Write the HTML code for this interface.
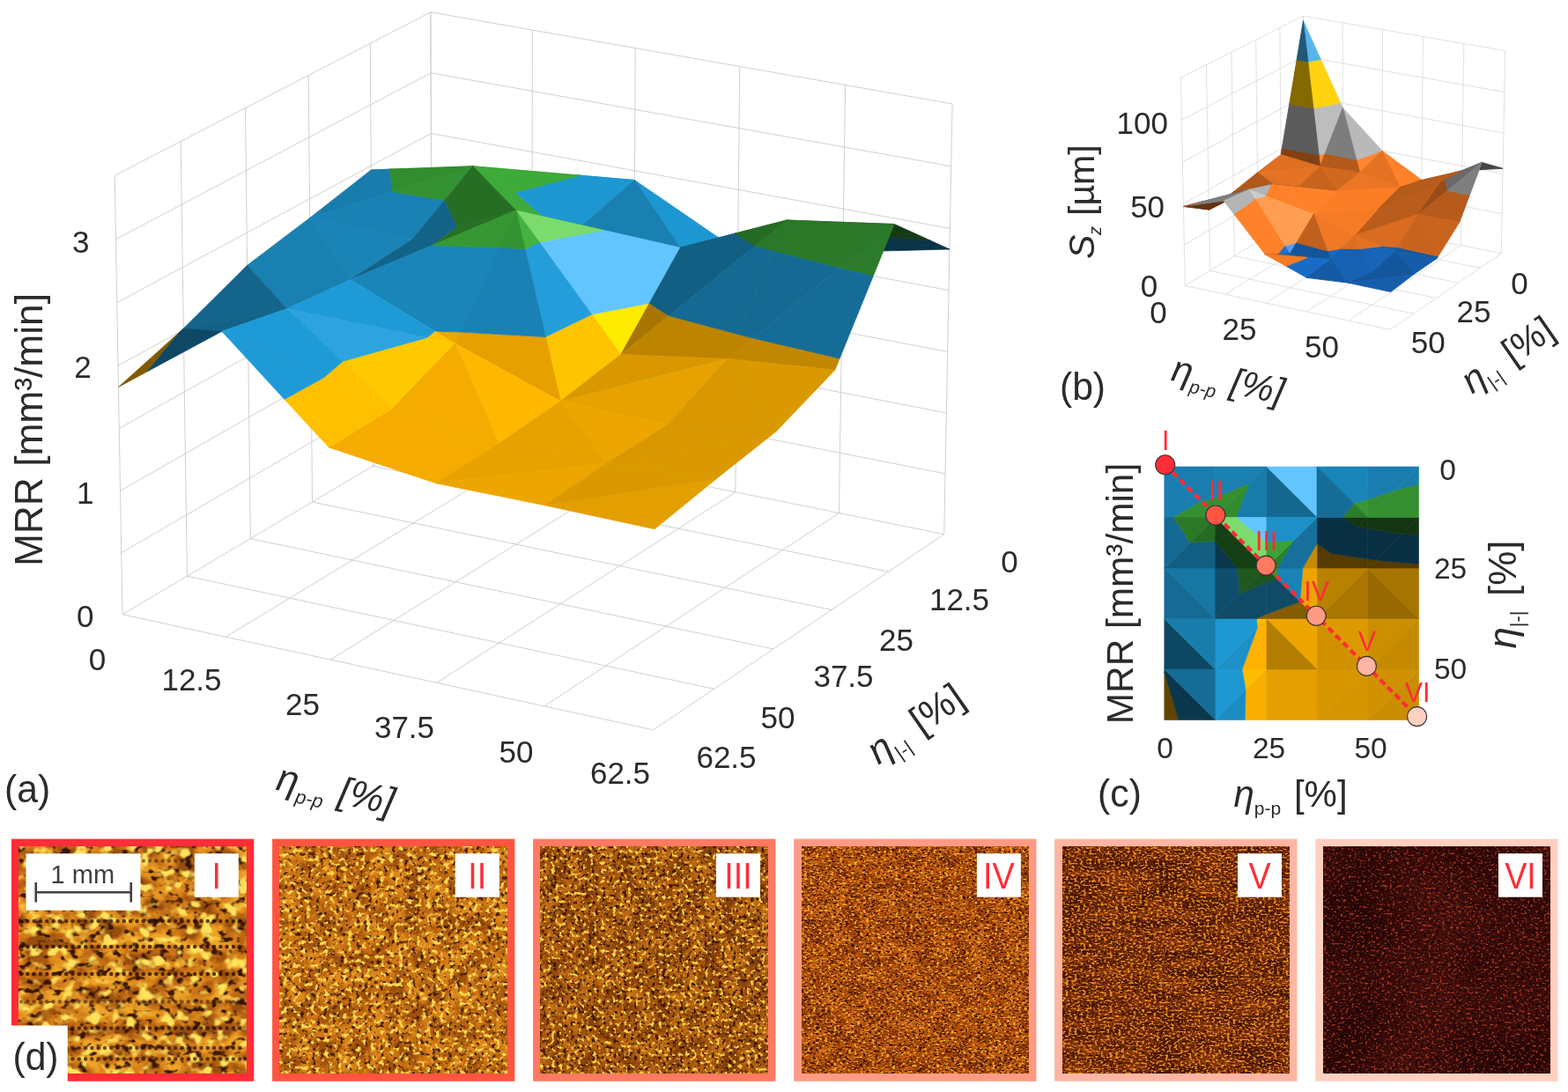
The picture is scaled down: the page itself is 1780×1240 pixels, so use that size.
<!DOCTYPE html>
<html><head><meta charset="utf-8"><title>Figure</title>
<style>html,body{margin:0;padding:0;background:#fff}svg{display:block}text{font-family:"Liberation Sans",sans-serif}</style></head>
<body>
<svg width="1780" height="1240" viewBox="0 0 1780 1240">
<line x1="490.6" y1="489.3" x2="139" y2="697.7" stroke="#d0d0d0" stroke-width="1"/>
<line x1="603.9" y1="512.2" x2="256.4" y2="723.2" stroke="#d0d0d0" stroke-width="1"/>
<line x1="718.7" y1="535.4" x2="375.3" y2="749.1" stroke="#d0d0d0" stroke-width="1"/>
<line x1="834.9" y1="558.8" x2="495.7" y2="775.3" stroke="#d0d0d0" stroke-width="1"/>
<line x1="952.5" y1="582.6" x2="617.9" y2="801.8" stroke="#d0d0d0" stroke-width="1"/>
<line x1="1071.7" y1="606.6" x2="741.6" y2="828.8" stroke="#d0d0d0" stroke-width="1"/>
<line x1="490.6" y1="489.3" x2="1071.7" y2="606.6" stroke="#d0d0d0" stroke-width="1"/>
<line x1="423.3" y1="529.2" x2="1008.6" y2="649.1" stroke="#d0d0d0" stroke-width="1"/>
<line x1="354.5" y1="570" x2="944.1" y2="692.5" stroke="#d0d0d0" stroke-width="1"/>
<line x1="284.3" y1="611.6" x2="878.1" y2="736.9" stroke="#d0d0d0" stroke-width="1"/>
<line x1="212.4" y1="654.2" x2="810.6" y2="782.3" stroke="#d0d0d0" stroke-width="1"/>
<line x1="139" y1="697.7" x2="741.6" y2="828.8" stroke="#d0d0d0" stroke-width="1"/>
<line x1="490.6" y1="489.3" x2="488.9" y2="13.8" stroke="#d0d0d0" stroke-width="1"/>
<line x1="423.3" y1="529.2" x2="420.3" y2="49.3" stroke="#d0d0d0" stroke-width="1"/>
<line x1="354.5" y1="570" x2="350.2" y2="85.6" stroke="#d0d0d0" stroke-width="1"/>
<line x1="284.3" y1="611.6" x2="278.5" y2="122.6" stroke="#d0d0d0" stroke-width="1"/>
<line x1="212.4" y1="654.2" x2="205.2" y2="160.5" stroke="#d0d0d0" stroke-width="1"/>
<line x1="139" y1="697.7" x2="130.2" y2="199.3" stroke="#d0d0d0" stroke-width="1"/>
<line x1="490.4" y1="422.5" x2="137.8" y2="627.7" stroke="#d0d0d0" stroke-width="1"/>
<line x1="490.1" y1="355.3" x2="136.6" y2="557.3" stroke="#d0d0d0" stroke-width="1"/>
<line x1="489.9" y1="287.7" x2="135.3" y2="486.5" stroke="#d0d0d0" stroke-width="1"/>
<line x1="489.7" y1="219.8" x2="134" y2="415.3" stroke="#d0d0d0" stroke-width="1"/>
<line x1="489.4" y1="151.5" x2="132.8" y2="343.7" stroke="#d0d0d0" stroke-width="1"/>
<line x1="489.2" y1="82.8" x2="131.5" y2="271.7" stroke="#d0d0d0" stroke-width="1"/>
<line x1="488.9" y1="13.8" x2="130.2" y2="199.3" stroke="#d0d0d0" stroke-width="1"/>
<line x1="490.6" y1="489.3" x2="488.9" y2="13.8" stroke="#d0d0d0" stroke-width="1"/>
<line x1="603.9" y1="512.2" x2="604.3" y2="34.1" stroke="#d0d0d0" stroke-width="1"/>
<line x1="718.7" y1="535.4" x2="721.2" y2="54.6" stroke="#d0d0d0" stroke-width="1"/>
<line x1="834.9" y1="558.8" x2="839.7" y2="75.4" stroke="#d0d0d0" stroke-width="1"/>
<line x1="952.5" y1="582.6" x2="959.6" y2="96.5" stroke="#d0d0d0" stroke-width="1"/>
<line x1="1071.7" y1="606.6" x2="1081.1" y2="117.9" stroke="#d0d0d0" stroke-width="1"/>
<line x1="490.4" y1="422.5" x2="1073" y2="537.9" stroke="#d0d0d0" stroke-width="1"/>
<line x1="490.1" y1="355.3" x2="1074.3" y2="468.9" stroke="#d0d0d0" stroke-width="1"/>
<line x1="489.9" y1="287.7" x2="1075.7" y2="399.4" stroke="#d0d0d0" stroke-width="1"/>
<line x1="489.7" y1="219.8" x2="1077" y2="329.6" stroke="#d0d0d0" stroke-width="1"/>
<line x1="489.4" y1="151.5" x2="1078.4" y2="259.4" stroke="#d0d0d0" stroke-width="1"/>
<line x1="489.2" y1="82.8" x2="1079.8" y2="188.8" stroke="#d0d0d0" stroke-width="1"/>
<line x1="488.9" y1="13.8" x2="1081.1" y2="117.9" stroke="#d0d0d0" stroke-width="1"/>
<polygon points="489.6,199.3 604.2,206.9 562.4,195.6 522.3,192" fill="#187aa9" stroke="#187aa9" stroke-width="0.7" stroke-linejoin="round"/>
<polygon points="562.4,195.6 536.8,188.7 522.3,192" fill="#318a2f" stroke="#318a2f" stroke-width="0.7" stroke-linejoin="round"/>
<polygon points="489.6,199.3 522.3,192 442.4,192.2 421.2,193" fill="#187aa9" stroke="#187aa9" stroke-width="0.7" stroke-linejoin="round"/>
<polygon points="522.3,192 536.8,188.7 442.4,192.2" fill="#318a2f" stroke="#318a2f" stroke-width="0.7" stroke-linejoin="round"/>
<polygon points="604.2,206.9 720.4,204.5 658.7,199.2 562.4,195.6" fill="#1981b3" stroke="#1981b3" stroke-width="0.7" stroke-linejoin="round"/>
<polygon points="658.7,199.2 536.8,188.7 562.4,195.6" fill="#349232" stroke="#349232" stroke-width="0.7" stroke-linejoin="round"/>
<polygon points="421.2,193 442.4,192.2 445.6,217.7 351.6,247.5" fill="#187dad" stroke="#187dad" stroke-width="0.7" stroke-linejoin="round"/>
<polygon points="442.4,192.2 536.8,188.7 445.6,217.7" fill="#328d30" stroke="#328d30" stroke-width="0.7" stroke-linejoin="round"/>
<polygon points="720.4,204.5 653.8,262.3 584.3,218.6 658.7,199.2" fill="#1d97d1" stroke="#1d97d1" stroke-width="0.7" stroke-linejoin="round"/>
<polygon points="584.3,218.6 536.8,188.7 658.7,199.2" fill="#3daa3a" stroke="#3daa3a" stroke-width="0.7" stroke-linejoin="round"/>
<polygon points="720.4,204.5 837.6,284.8 772.3,281.2" fill="#1d97d1" stroke="#1d97d1" stroke-width="0.7" stroke-linejoin="round"/>
<polygon points="720.4,204.5 772.3,281.2 653.8,262.3" fill="#1980b1" stroke="#1980b1" stroke-width="0.7" stroke-linejoin="round"/>
<polygon points="504.8,227.5 468,272 351.6,247.5 445.6,217.7" fill="#1981b3" stroke="#1981b3" stroke-width="0.7" stroke-linejoin="round"/>
<polygon points="536.8,188.7 504.8,227.5 445.6,217.7" fill="#349232" stroke="#349232" stroke-width="0.7" stroke-linejoin="round"/>
<polygon points="584.3,218.6 653.8,262.3 620.2,250.6" fill="#1d97d1" stroke="#1d97d1" stroke-width="0.7" stroke-linejoin="round"/>
<polygon points="536.8,188.7 584.3,218.6 620.2,250.6 585.8,238.8" fill="#3daa3a" stroke="#3daa3a" stroke-width="0.7" stroke-linejoin="round"/>
<polygon points="837.6,284.8 956.8,286.2 915.2,262.6 877.9,259.5" fill="#125f83" stroke="#125f83" stroke-width="0.7" stroke-linejoin="round"/>
<polygon points="915.2,262.6 893,250 877.9,259.5" fill="#266b24" stroke="#266b24" stroke-width="0.7" stroke-linejoin="round"/>
<polygon points="519.3,257.5 468,272 504.8,227.5" fill="#136287" stroke="#136287" stroke-width="0.7" stroke-linejoin="round"/>
<polygon points="536.8,188.7 585.8,238.8 519.3,257.5 504.8,227.5" fill="#276e25" stroke="#276e25" stroke-width="0.7" stroke-linejoin="round"/>
<polygon points="837.6,284.8 877.9,259.5 834.5,265.1 772.3,281.2" fill="#125f83" stroke="#125f83" stroke-width="0.7" stroke-linejoin="round"/>
<polygon points="877.9,259.5 893,250 834.5,265.1" fill="#266b24" stroke="#266b24" stroke-width="0.7" stroke-linejoin="round"/>
<polygon points="351.6,247.5 468,272 397.7,317.5" fill="#1a84b7" stroke="#1a84b7" stroke-width="0.7" stroke-linejoin="round"/>
<polygon points="653.8,262.3 772.3,281.2 685,261.3 620.2,250.6" fill="#187aa9" stroke="#187aa9" stroke-width="0.7" stroke-linejoin="round"/>
<polygon points="685,261.3 585.8,238.8 620.2,250.6" fill="#318a2f" stroke="#318a2f" stroke-width="0.7" stroke-linejoin="round"/>
<polygon points="351.6,247.5 397.7,317.5 280.6,301.3" fill="#1980b1" stroke="#1980b1" stroke-width="0.7" stroke-linejoin="round"/>
<polygon points="956.8,286.2 1077.9,283 990,267.3 915.2,262.6" fill="#0a3448" stroke="#0a3448" stroke-width="0.7" stroke-linejoin="round"/>
<polygon points="990,267.3 893,250 915.2,262.6" fill="#153a14" stroke="#153a14" stroke-width="0.7" stroke-linejoin="round"/>
<polygon points="468,272 519.3,257.5 490.9,278.5 397.7,317.5" fill="#136389" stroke="#136389" stroke-width="0.7" stroke-linejoin="round"/>
<polygon points="519.3,257.5 585.8,238.8 490.9,278.5" fill="#287026" stroke="#287026" stroke-width="0.7" stroke-linejoin="round"/>
<polygon points="737.2,344.3 704.8,402.5 671.8,357" fill="#ffeb00" stroke="#ffeb00" stroke-width="0.7" stroke-linejoin="round"/>
<polygon points="772.3,281.2 737.2,344.3 671.8,357 612.3,275.1 685,261.3" fill="#63c5ff" stroke="#63c5ff" stroke-width="0.7" stroke-linejoin="round"/>
<polygon points="612.3,275.1 585.8,238.8 685,261.3" fill="#7bdb6d" stroke="#7bdb6d" stroke-width="0.7" stroke-linejoin="round"/>
<polygon points="759.1,358.5 704.8,402.5 737.2,344.3" fill="#a87500" stroke="#a87500" stroke-width="0.7" stroke-linejoin="round"/>
<polygon points="772.3,281.2 834.5,265.1 857.1,279.1 759.1,358.5 737.2,344.3" fill="#125f83" stroke="#125f83" stroke-width="0.7" stroke-linejoin="round"/>
<polygon points="834.5,265.1 893,250 857.1,279.1" fill="#266b24" stroke="#266b24" stroke-width="0.7" stroke-linejoin="round"/>
<polygon points="1077.9,283 1056.1,273.1 990,267.3" fill="#0a3448" stroke="#0a3448" stroke-width="0.7" stroke-linejoin="round"/>
<polygon points="1056.1,273.1 1015.2,254.5 893,250 990,267.3" fill="#153a14" stroke="#153a14" stroke-width="0.7" stroke-linejoin="round"/>
<polygon points="522.4,377.1 516.5,390 493.7,376.1" fill="#eda600" stroke="#eda600" stroke-width="0.7" stroke-linejoin="round"/>
<polygon points="566.4,281.1 522.4,377.1 493.7,376.1 397.7,317.5 490.9,278.5" fill="#1a85b9" stroke="#1a85b9" stroke-width="0.7" stroke-linejoin="round"/>
<polygon points="585.8,238.8 566.4,281.1 490.9,278.5" fill="#369733" stroke="#369733" stroke-width="0.7" stroke-linejoin="round"/>
<polygon points="837.6,379.5 825.6,407.5 704.8,402.5 759.1,358.5" fill="#bd8400" stroke="#bd8400" stroke-width="0.7" stroke-linejoin="round"/>
<polygon points="878.2,284.6 837.6,379.5 759.1,358.5 857.1,279.1" fill="#156a93" stroke="#156a93" stroke-width="0.7" stroke-linejoin="round"/>
<polygon points="893,250 878.2,284.6 857.1,279.1" fill="#2b7829" stroke="#2b7829" stroke-width="0.7" stroke-linejoin="round"/>
<polygon points="280.6,301.3 397.7,317.5 325.6,350.5" fill="#1980b1" stroke="#1980b1" stroke-width="0.7" stroke-linejoin="round"/>
<polygon points="671.8,357 704.8,402.5 636.4,455.5 619.4,382.5" fill="#ffc400" stroke="#ffc400" stroke-width="0.7" stroke-linejoin="round"/>
<polygon points="612.3,275.1 671.8,357 619.4,382.5 596.1,282.7" fill="#249eda" stroke="#249eda" stroke-width="0.7" stroke-linejoin="round"/>
<polygon points="585.8,238.8 612.3,275.1 596.1,282.7" fill="#44b340" stroke="#44b340" stroke-width="0.7" stroke-linejoin="round"/>
<polygon points="280.6,301.3 325.6,350.5 208.3,373" fill="#14648b" stroke="#14648b" stroke-width="0.7" stroke-linejoin="round"/>
<polygon points="619.4,382.5 636.4,455.5 516.5,390 522.4,377.1" fill="#e6a000" stroke="#e6a000" stroke-width="0.7" stroke-linejoin="round"/>
<polygon points="596.1,282.7 619.4,382.5 522.4,377.1 566.4,281.1" fill="#1981b3" stroke="#1981b3" stroke-width="0.7" stroke-linejoin="round"/>
<polygon points="585.8,238.8 596.1,282.7 566.4,281.1" fill="#349232" stroke="#349232" stroke-width="0.7" stroke-linejoin="round"/>
<polygon points="854.7,384 825.6,407.5 837.6,379.5" fill="#bd8400" stroke="#bd8400" stroke-width="0.7" stroke-linejoin="round"/>
<polygon points="953.8,304.1 854.7,384 837.6,379.5 878.2,284.6" fill="#156a93" stroke="#156a93" stroke-width="0.7" stroke-linejoin="round"/>
<polygon points="893,250 1015.2,254.5 953.8,304.1 878.2,284.6" fill="#2b7829" stroke="#2b7829" stroke-width="0.7" stroke-linejoin="round"/>
<polygon points="704.8,402.5 825.6,407.5 636.4,455.5" fill="#d99700" stroke="#d99700" stroke-width="0.7" stroke-linejoin="round"/>
<polygon points="493.7,376.1 516.5,390 484.7,383.4" fill="#ffc000" stroke="#ffc000" stroke-width="0.7" stroke-linejoin="round"/>
<polygon points="397.7,317.5 493.7,376.1 484.7,383.4 325.6,350.5" fill="#1e9bd7" stroke="#1e9bd7" stroke-width="0.7" stroke-linejoin="round"/>
<polygon points="953.2,407 948,420 825.6,407.5 854.7,384" fill="#c28700" stroke="#c28700" stroke-width="0.7" stroke-linejoin="round"/>
<polygon points="991.6,312.7 953.2,407 854.7,384 953.8,304.1" fill="#156d97" stroke="#156d97" stroke-width="0.7" stroke-linejoin="round"/>
<polygon points="1015.2,254.5 991.6,312.7 953.8,304.1" fill="#2c7b2a" stroke="#2c7b2a" stroke-width="0.7" stroke-linejoin="round"/>
<polygon points="516.5,390 445.7,463.8 389.1,410.3 484.7,383.4" fill="#ffc900" stroke="#ffc900" stroke-width="0.7" stroke-linejoin="round"/>
<polygon points="389.1,410.3 325.6,350.5 484.7,383.4" fill="#2da4df" stroke="#2da4df" stroke-width="0.7" stroke-linejoin="round"/>
<polygon points="825.6,407.5 757.8,482.5 636.4,455.5" fill="#e8a200" stroke="#e8a200" stroke-width="0.7" stroke-linejoin="round"/>
<polygon points="516.5,390 636.4,455.5 566.5,503.7" fill="#ffb700" stroke="#ffb700" stroke-width="0.7" stroke-linejoin="round"/>
<polygon points="208.3,373 325.6,350.5 251.9,376.3" fill="#136389" stroke="#136389" stroke-width="0.7" stroke-linejoin="round"/>
<polygon points="167.1,421.9 134.5,439.5 204.2,376.7" fill="#805900" stroke="#805900" stroke-width="0.7" stroke-linejoin="round"/>
<polygon points="208.3,373 251.9,376.3 167.1,421.9 204.2,376.7" fill="#0e4864" stroke="#0e4864" stroke-width="0.7" stroke-linejoin="round"/>
<polygon points="516.5,390 566.5,503.7 445.7,463.8" fill="#f5ab00" stroke="#f5ab00" stroke-width="0.7" stroke-linejoin="round"/>
<polygon points="825.6,407.5 948,420 881,490" fill="#db9900" stroke="#db9900" stroke-width="0.7" stroke-linejoin="round"/>
<polygon points="825.6,407.5 881,490 757.8,482.5" fill="#d99700" stroke="#d99700" stroke-width="0.7" stroke-linejoin="round"/>
<polygon points="389.1,410.3 445.7,463.8 367.9,428.6" fill="#ffc000" stroke="#ffc000" stroke-width="0.7" stroke-linejoin="round"/>
<polygon points="325.6,350.5 389.1,410.3 367.9,428.6 251.9,376.3" fill="#1e9bd7" stroke="#1e9bd7" stroke-width="0.7" stroke-linejoin="round"/>
<polygon points="636.4,455.5 757.8,482.5 688.8,526" fill="#eda600" stroke="#eda600" stroke-width="0.7" stroke-linejoin="round"/>
<polygon points="636.4,455.5 688.8,526 566.5,503.7" fill="#e8a200" stroke="#e8a200" stroke-width="0.7" stroke-linejoin="round"/>
<polygon points="445.7,463.8 566.5,503.7 373.3,508" fill="#f5ab00" stroke="#f5ab00" stroke-width="0.7" stroke-linejoin="round"/>
<polygon points="445.7,463.8 373.3,508 322.9,453.4 367.9,428.6" fill="#ffc000" stroke="#ffc000" stroke-width="0.7" stroke-linejoin="round"/>
<polygon points="322.9,453.4 251.9,376.3 367.9,428.6" fill="#1e9bd7" stroke="#1e9bd7" stroke-width="0.7" stroke-linejoin="round"/>
<polygon points="757.8,482.5 881,490 688.8,526" fill="#d99700" stroke="#d99700" stroke-width="0.7" stroke-linejoin="round"/>
<polygon points="566.5,503.7 495,548.8 373.3,508" fill="#f5ab00" stroke="#f5ab00" stroke-width="0.7" stroke-linejoin="round"/>
<polygon points="566.5,503.7 688.8,526 495,548.8" fill="#e8a200" stroke="#e8a200" stroke-width="0.7" stroke-linejoin="round"/>
<polygon points="881,490 812.8,544 688.8,526" fill="#db9900" stroke="#db9900" stroke-width="0.7" stroke-linejoin="round"/>
<polygon points="688.8,526 618.2,573.8 495,548.8" fill="#eda600" stroke="#eda600" stroke-width="0.7" stroke-linejoin="round"/>
<polygon points="688.8,526 812.8,544 618.2,573.8" fill="#db9900" stroke="#db9900" stroke-width="0.7" stroke-linejoin="round"/>
<polygon points="812.8,544 743.1,600.8 618.2,573.8" fill="#e39e00" stroke="#e39e00" stroke-width="0.7" stroke-linejoin="round"/>
<text transform="translate(91.7,286.8)" font-size="35" text-anchor="middle" fill="#2b2b2b">3</text>
<text transform="translate(94,429)" font-size="35" text-anchor="middle" fill="#2b2b2b">2</text>
<text transform="translate(96.8,572)" font-size="35" text-anchor="middle" fill="#2b2b2b">1</text>
<text transform="translate(96.8,711.5)" font-size="35" text-anchor="middle" fill="#2b2b2b">0</text>
<text transform="translate(110.6,760.9)" font-size="35" text-anchor="middle" fill="#2b2b2b">0</text>
<text transform="translate(217.5,783.8)" font-size="35" text-anchor="middle" fill="#2b2b2b">12.5</text>
<text transform="translate(343.5,812.3)" font-size="35" text-anchor="middle" fill="#2b2b2b">25</text>
<text transform="translate(459,838)" font-size="35" text-anchor="middle" fill="#2b2b2b">37.5</text>
<text transform="translate(586,866)" font-size="35" text-anchor="middle" fill="#2b2b2b">50</text>
<text transform="translate(704,890)" font-size="35" text-anchor="middle" fill="#2b2b2b">62.5</text>
<text transform="translate(824.5,871.5)" font-size="35" text-anchor="middle" fill="#2b2b2b">62.5</text>
<text transform="translate(883,827)" font-size="35" text-anchor="middle" fill="#2b2b2b">50</text>
<text transform="translate(957.5,780)" font-size="35" text-anchor="middle" fill="#2b2b2b">37.5</text>
<text transform="translate(1017.5,738.5)" font-size="35" text-anchor="middle" fill="#2b2b2b">25</text>
<text transform="translate(1089,692.5)" font-size="35" text-anchor="middle" fill="#2b2b2b">12.5</text>
<text transform="translate(1146,650)" font-size="35" text-anchor="middle" fill="#2b2b2b">0</text>
<text transform="translate(47.5,488) rotate(-90) scale(0.985,1)" font-size="45" text-anchor="middle" fill="#2b2b2b">MRR [mm&#179;/min]</text>
<text transform="translate(31.2,911) scale(0.97,1)" font-size="44" text-anchor="middle" fill="#2b2b2b">(a)</text>
<g transform="translate(381,898) rotate(12.3)" fill="#2b2b2b">
<text x="-67.7" y="13.2" font-size="44" font-style="italic">&#951;</text>
<text x="-43.2" y="22.9" font-size="22" font-style="italic">p-p</text>
<text x="4.1" y="13.2" font-size="44" font-style="italic">[%]</text>
</g>
<g transform="translate(1040,823) rotate(-34.8)" fill="#2b2b2b">
<text x="-61.6" y="13.2" font-size="44" font-style="italic">&#951;</text>
<text x="-37.2" y="22.9" font-size="22">|-|</text>
<text x="-2" y="13.2" font-size="44">[%]</text>
</g>
<line x1="1480.6" y1="243" x2="1345.3" y2="324.4" stroke="#dcdcdc" stroke-width="0.9"/>
<line x1="1524.4" y1="251.8" x2="1390.8" y2="334.2" stroke="#dcdcdc" stroke-width="0.9"/>
<line x1="1568.6" y1="260.6" x2="1436.9" y2="344" stroke="#dcdcdc" stroke-width="0.9"/>
<line x1="1613.3" y1="269.6" x2="1483.5" y2="354" stroke="#dcdcdc" stroke-width="0.9"/>
<line x1="1658.5" y1="278.6" x2="1530.7" y2="364.1" stroke="#dcdcdc" stroke-width="0.9"/>
<line x1="1704.3" y1="287.8" x2="1578.4" y2="374.3" stroke="#dcdcdc" stroke-width="0.9"/>
<line x1="1480.6" y1="243" x2="1704.3" y2="287.8" stroke="#dcdcdc" stroke-width="0.9"/>
<line x1="1454.8" y1="258.6" x2="1680.3" y2="304.3" stroke="#dcdcdc" stroke-width="0.9"/>
<line x1="1428.3" y1="274.5" x2="1655.7" y2="321.2" stroke="#dcdcdc" stroke-width="0.9"/>
<line x1="1401.3" y1="290.7" x2="1630.6" y2="338.5" stroke="#dcdcdc" stroke-width="0.9"/>
<line x1="1373.6" y1="307.4" x2="1604.8" y2="356.2" stroke="#dcdcdc" stroke-width="0.9"/>
<line x1="1345.3" y1="324.4" x2="1578.4" y2="374.3" stroke="#dcdcdc" stroke-width="0.9"/>
<line x1="1480.6" y1="243" x2="1479.4" y2="18.1" stroke="#dcdcdc" stroke-width="0.9"/>
<line x1="1454.8" y1="258.6" x2="1452.9" y2="31.4" stroke="#dcdcdc" stroke-width="0.9"/>
<line x1="1428.3" y1="274.5" x2="1425.7" y2="45.1" stroke="#dcdcdc" stroke-width="0.9"/>
<line x1="1401.3" y1="290.7" x2="1398" y2="59.1" stroke="#dcdcdc" stroke-width="0.9"/>
<line x1="1373.6" y1="307.4" x2="1369.5" y2="73.4" stroke="#dcdcdc" stroke-width="0.9"/>
<line x1="1345.3" y1="324.4" x2="1340.4" y2="88.1" stroke="#dcdcdc" stroke-width="0.9"/>
<line x1="1480.4" y1="198.9" x2="1344.3" y2="278.1" stroke="#dcdcdc" stroke-width="0.9"/>
<line x1="1480.2" y1="154.4" x2="1343.4" y2="231.4" stroke="#dcdcdc" stroke-width="0.9"/>
<line x1="1479.9" y1="109.4" x2="1342.4" y2="184.1" stroke="#dcdcdc" stroke-width="0.9"/>
<line x1="1479.7" y1="64" x2="1341.4" y2="136.3" stroke="#dcdcdc" stroke-width="0.9"/>
<line x1="1479.4" y1="18.1" x2="1340.4" y2="88.1" stroke="#dcdcdc" stroke-width="0.9"/>
<line x1="1480.6" y1="243" x2="1479.4" y2="18.1" stroke="#dcdcdc" stroke-width="0.9"/>
<line x1="1524.4" y1="251.8" x2="1524.2" y2="25.8" stroke="#dcdcdc" stroke-width="0.9"/>
<line x1="1568.6" y1="260.6" x2="1569.6" y2="33.6" stroke="#dcdcdc" stroke-width="0.9"/>
<line x1="1613.3" y1="269.6" x2="1615.4" y2="41.5" stroke="#dcdcdc" stroke-width="0.9"/>
<line x1="1658.5" y1="278.6" x2="1661.8" y2="49.5" stroke="#dcdcdc" stroke-width="0.9"/>
<line x1="1704.3" y1="287.8" x2="1708.7" y2="57.6" stroke="#dcdcdc" stroke-width="0.9"/>
<line x1="1480.4" y1="198.9" x2="1705.1" y2="242.7" stroke="#dcdcdc" stroke-width="0.9"/>
<line x1="1480.2" y1="154.4" x2="1706" y2="197.1" stroke="#dcdcdc" stroke-width="0.9"/>
<line x1="1479.9" y1="109.4" x2="1706.9" y2="151.1" stroke="#dcdcdc" stroke-width="0.9"/>
<line x1="1479.7" y1="64" x2="1707.8" y2="104.6" stroke="#dcdcdc" stroke-width="0.9"/>
<line x1="1479.4" y1="18.1" x2="1708.7" y2="57.6" stroke="#dcdcdc" stroke-width="0.9"/>
<polygon points="1504.3,174.3 1498.6,189.1 1497.1,175.7" fill="#ff8c39" stroke="#ff8c39" stroke-width="0.9" stroke-linejoin="round"/>
<polygon points="1521.8,117.1 1524.3,122.5 1504.3,174.3 1497.1,175.7 1490.9,122.8" fill="#bdbdbd" stroke="#bdbdbd" stroke-width="0.9" stroke-linejoin="round"/>
<polygon points="1499.3,67.5 1521.8,117.1 1490.9,122.8 1484.8,70" fill="#ffd310" stroke="#ffd310" stroke-width="0.9" stroke-linejoin="round"/>
<polygon points="1479.4,23.7 1499.3,67.5 1484.8,70" fill="#54b6eb" stroke="#54b6eb" stroke-width="0.9" stroke-linejoin="round"/>
<polygon points="1497.1,175.7 1498.6,189.1 1454.1,175.6 1455.3,168.3" fill="#824114" stroke="#824114" stroke-width="0.9" stroke-linejoin="round"/>
<polygon points="1490.9,122.8 1497.1,175.7 1455.3,168.3 1463.7,118.2" fill="#5b5b5b" stroke="#5b5b5b" stroke-width="0.9" stroke-linejoin="round"/>
<polygon points="1484.8,70 1490.9,122.8 1463.7,118.2 1472.1,67.9" fill="#846900" stroke="#846900" stroke-width="0.9" stroke-linejoin="round"/>
<polygon points="1479.4,23.7 1484.8,70 1472.1,67.9" fill="#225876" stroke="#225876" stroke-width="0.9" stroke-linejoin="round"/>
<polygon points="1568.9,171.1 1569,171.3 1543.6,195.9 1539.8,181.6" fill="#ff8732" stroke="#ff8732" stroke-width="0.9" stroke-linejoin="round"/>
<polygon points="1524.3,122.5 1568.9,171.1 1539.8,181.6" fill="#b9b9b9" stroke="#b9b9b9" stroke-width="0.9" stroke-linejoin="round"/>
<polygon points="1539.8,181.6 1543.6,195.9 1498.6,189.1 1504.3,174.3" fill="#b3591b" stroke="#b3591b" stroke-width="0.9" stroke-linejoin="round"/>
<polygon points="1524.3,122.5 1539.8,181.6 1504.3,174.3" fill="#7d7d7d" stroke="#7d7d7d" stroke-width="0.9" stroke-linejoin="round"/>
<polygon points="1454.1,175.6 1498.6,189.1 1427.5,195.9" fill="#df6f22" stroke="#df6f22" stroke-width="0.9" stroke-linejoin="round"/>
<polygon points="1569,171.3 1613.9,204.4 1589,212.8" fill="#ff8129" stroke="#ff8129" stroke-width="0.9" stroke-linejoin="round"/>
<polygon points="1569,171.3 1589,212.8 1543.6,195.9" fill="#e47223" stroke="#e47223" stroke-width="0.9" stroke-linejoin="round"/>
<polygon points="1613.9,204.4 1659.7,193.8 1589,212.8" fill="#ad561a" stroke="#ad561a" stroke-width="0.9" stroke-linejoin="round"/>
<polygon points="1498.6,189.1 1472.4,213.7 1427.5,195.9" fill="#e67323" stroke="#e67323" stroke-width="0.9" stroke-linejoin="round"/>
<polygon points="1498.6,189.1 1543.6,195.9 1517.7,217" fill="#d16820" stroke="#d16820" stroke-width="0.9" stroke-linejoin="round"/>
<polygon points="1498.6,189.1 1517.7,217 1472.4,213.7" fill="#c8631e" stroke="#c8631e" stroke-width="0.9" stroke-linejoin="round"/>
<polygon points="1543.6,195.9 1589,212.8 1517.7,217" fill="#ed7624" stroke="#ed7624" stroke-width="0.9" stroke-linejoin="round"/>
<polygon points="1659.7,193.8 1635.2,207.5 1589,212.8" fill="#b85b1c" stroke="#b85b1c" stroke-width="0.9" stroke-linejoin="round"/>
<polygon points="1427.5,195.9 1472.4,213.7 1445.3,209.4" fill="#df6f22" stroke="#df6f22" stroke-width="0.9" stroke-linejoin="round"/>
<polygon points="1659.7,193.8 1682,192.6 1663.3,192.3" fill="#64320f" stroke="#64320f" stroke-width="0.9" stroke-linejoin="round"/>
<polygon points="1682,192.6 1706.1,191.3 1682.2,184.5 1663.3,192.3" fill="#454545" stroke="#454545" stroke-width="0.9" stroke-linejoin="round"/>
<polygon points="1427.5,195.9 1445.3,209.4 1400.2,217.9" fill="#b1581b" stroke="#b1581b" stroke-width="0.9" stroke-linejoin="round"/>
<polygon points="1589,212.8 1563.5,238.2 1517.7,217" fill="#fb7d26" stroke="#fb7d26" stroke-width="0.9" stroke-linejoin="round"/>
<polygon points="1589,212.8 1635.2,207.5 1563.5,238.2" fill="#b45a1b" stroke="#b45a1b" stroke-width="0.9" stroke-linejoin="round"/>
<polygon points="1659.7,193.8 1663.3,192.3 1640.6,204.8 1635.2,207.5" fill="#9c4e18" stroke="#9c4e18" stroke-width="0.9" stroke-linejoin="round"/>
<polygon points="1663.3,192.3 1682.2,184.5 1640.6,204.8" fill="#6c6c6c" stroke="#6c6c6c" stroke-width="0.9" stroke-linejoin="round"/>
<polygon points="1472.4,213.7 1517.7,217 1445.3,209.4" fill="#64320f" stroke="#64320f" stroke-width="0.9" stroke-linejoin="round"/>
<polygon points="1517.7,217 1563.5,238.2 1491.2,243.3" fill="#fb7d26" stroke="#fb7d26" stroke-width="0.9" stroke-linejoin="round"/>
<polygon points="1635.2,207.5 1609.8,243.6 1563.5,238.2" fill="#b95c1c" stroke="#b95c1c" stroke-width="0.9" stroke-linejoin="round"/>
<polygon points="1517.7,217 1491.2,243.3 1445.3,209.4" fill="#ff822a" stroke="#ff822a" stroke-width="0.9" stroke-linejoin="round"/>
<polygon points="1635.2,207.5 1640.6,204.8 1643.1,216.4 1609.8,243.6" fill="#994c17" stroke="#994c17" stroke-width="0.9" stroke-linejoin="round"/>
<polygon points="1640.6,204.8 1682.2,184.5 1643.1,216.4" fill="#6a6a6a" stroke="#6a6a6a" stroke-width="0.9" stroke-linejoin="round"/>
<polygon points="1400.2,217.9 1445.3,209.4 1442.5,210 1411.9,216.2" fill="#b1581b" stroke="#b1581b" stroke-width="0.9" stroke-linejoin="round"/>
<polygon points="1442.5,210 1417.5,215.4 1411.9,216.2" fill="#7b7b7b" stroke="#7b7b7b" stroke-width="0.9" stroke-linejoin="round"/>
<polygon points="1563.5,238.2 1609.8,243.6 1537.3,267.5" fill="#b95c1c" stroke="#b95c1c" stroke-width="0.9" stroke-linejoin="round"/>
<polygon points="1563.5,238.2 1537.3,267.5 1491.2,243.3" fill="#f67b25" stroke="#f67b25" stroke-width="0.9" stroke-linejoin="round"/>
<polygon points="1400.2,217.9 1411.9,216.2 1404.9,221.8 1372.4,238.2" fill="#9c4e18" stroke="#9c4e18" stroke-width="0.9" stroke-linejoin="round"/>
<polygon points="1411.9,216.2 1417.5,215.4 1404.9,221.8" fill="#6c6c6c" stroke="#6c6c6c" stroke-width="0.9" stroke-linejoin="round"/>
<polygon points="1668.4,221.4 1656.7,252.5 1609.8,243.6 1643.1,216.4" fill="#b65b1c" stroke="#b65b1c" stroke-width="0.9" stroke-linejoin="round"/>
<polygon points="1682.2,184.5 1668.4,221.4 1643.1,216.4" fill="#7f7f7f" stroke="#7f7f7f" stroke-width="0.9" stroke-linejoin="round"/>
<polygon points="1445.3,209.4 1491.2,243.3 1436.5,222.6 1442.5,210" fill="#ff8129" stroke="#ff8129" stroke-width="0.9" stroke-linejoin="round"/>
<polygon points="1436.5,222.6 1417.5,215.4 1442.5,210" fill="#b3b3b3" stroke="#b3b3b3" stroke-width="0.9" stroke-linejoin="round"/>
<polygon points="1586.6,280.8 1583.9,285 1569.3,279.5" fill="#165fae" stroke="#165fae" stroke-width="0.9" stroke-linejoin="round"/>
<polygon points="1609.8,243.6 1586.6,280.8 1569.3,279.5 1537.3,267.5" fill="#d96c21" stroke="#d96c21" stroke-width="0.9" stroke-linejoin="round"/>
<polygon points="1471.9,275.5 1464.2,288.5 1458.2,279.1" fill="#559ce9" stroke="#559ce9" stroke-width="0.9" stroke-linejoin="round"/>
<polygon points="1491.2,243.3 1471.9,275.5 1458.2,279.1 1424.1,225.6 1436.5,222.6" fill="#ff9e52" stroke="#ff9e52" stroke-width="0.9" stroke-linejoin="round"/>
<polygon points="1424.1,225.6 1417.5,215.4 1436.5,222.6" fill="#cbcbcb" stroke="#cbcbcb" stroke-width="0.9" stroke-linejoin="round"/>
<polygon points="1522.8,282.2 1510.6,294.5 1507,285" fill="#186ac1" stroke="#186ac1" stroke-width="0.9" stroke-linejoin="round"/>
<polygon points="1491.2,243.3 1537.3,267.5 1522.8,282.2 1507,285" fill="#f17825" stroke="#f17825" stroke-width="0.9" stroke-linejoin="round"/>
<polygon points="1632.6,291 1631.1,293.5 1629.7,290.4" fill="#1458a2" stroke="#1458a2" stroke-width="0.9" stroke-linejoin="round"/>
<polygon points="1609.8,243.6 1656.7,252.5 1632.6,291 1629.7,290.4" fill="#c9641f" stroke="#c9641f" stroke-width="0.9" stroke-linejoin="round"/>
<polygon points="1507,285 1510.6,294.5 1464.2,288.5 1471.9,275.5" fill="#13549a" stroke="#13549a" stroke-width="0.9" stroke-linejoin="round"/>
<polygon points="1491.2,243.3 1507,285 1471.9,275.5" fill="#c0601d" stroke="#c0601d" stroke-width="0.9" stroke-linejoin="round"/>
<polygon points="1629.7,290.4 1631.1,293.5 1583.9,285 1586.6,280.8" fill="#1458a0" stroke="#1458a0" stroke-width="0.9" stroke-linejoin="round"/>
<polygon points="1609.8,243.6 1629.7,290.4 1586.6,280.8" fill="#c8631e" stroke="#c8631e" stroke-width="0.9" stroke-linejoin="round"/>
<polygon points="1372.4,238.2 1404.9,221.8 1362.7,229.5 1343.4,234.5" fill="#64320f" stroke="#64320f" stroke-width="0.9" stroke-linejoin="round"/>
<polygon points="1404.9,221.8 1417.5,215.4 1362.7,229.5" fill="#454545" stroke="#454545" stroke-width="0.9" stroke-linejoin="round"/>
<polygon points="1569.3,279.5 1583.9,285 1557.6,309.3 1544.6,282.5" fill="#1764b8" stroke="#1764b8" stroke-width="0.9" stroke-linejoin="round"/>
<polygon points="1537.3,267.5 1569.3,279.5 1544.6,282.5" fill="#e57223" stroke="#e57223" stroke-width="0.9" stroke-linejoin="round"/>
<polygon points="1544.6,282.5 1557.6,309.3 1510.6,294.5 1522.8,282.2" fill="#1661b2" stroke="#1661b2" stroke-width="0.9" stroke-linejoin="round"/>
<polygon points="1537.3,267.5 1544.6,282.5 1522.8,282.2" fill="#de6e22" stroke="#de6e22" stroke-width="0.9" stroke-linejoin="round"/>
<polygon points="1458.2,279.1 1464.2,288.5 1450.4,288.7" fill="#1d72ce" stroke="#1d72ce" stroke-width="0.9" stroke-linejoin="round"/>
<polygon points="1424.1,225.6 1458.2,279.1 1450.4,288.7 1436.3,289 1421,229.1" fill="#ff8129" stroke="#ff8129" stroke-width="0.9" stroke-linejoin="round"/>
<polygon points="1417.5,215.4 1424.1,225.6 1421,229.1" fill="#b3b3b3" stroke="#b3b3b3" stroke-width="0.9" stroke-linejoin="round"/>
<polygon points="1464.2,288.5 1510.6,294.5 1484,292.5 1450.4,288.7" fill="#1458a1" stroke="#1458a1" stroke-width="0.9" stroke-linejoin="round"/>
<polygon points="1484,292.5 1436.3,289 1450.4,288.7" fill="#c8641e" stroke="#c8641e" stroke-width="0.9" stroke-linejoin="round"/>
<polygon points="1352.5,233.2 1343.4,234.5 1362.7,229.5" fill="#b55a1c" stroke="#b55a1c" stroke-width="0.9" stroke-linejoin="round"/>
<polygon points="1417.5,215.4 1389.2,228 1352.5,233.2 1362.7,229.5" fill="#7e7e7e" stroke="#7e7e7e" stroke-width="0.9" stroke-linejoin="round"/>
<polygon points="1583.9,285 1631.1,293.5 1605.2,311.3" fill="#155da9" stroke="#155da9" stroke-width="0.9" stroke-linejoin="round"/>
<polygon points="1421,229.1 1436.3,289 1400.8,243" fill="#ff812a" stroke="#ff812a" stroke-width="0.9" stroke-linejoin="round"/>
<polygon points="1417.5,215.4 1421,229.1 1400.8,243 1389.2,228" fill="#b4b4b4" stroke="#b4b4b4" stroke-width="0.9" stroke-linejoin="round"/>
<polygon points="1583.9,285 1605.2,311.3 1557.6,309.3" fill="#14569d" stroke="#14569d" stroke-width="0.9" stroke-linejoin="round"/>
<polygon points="1510.6,294.5 1483.3,315.3 1460,302.2 1484,292.5" fill="#196cc5" stroke="#196cc5" stroke-width="0.9" stroke-linejoin="round"/>
<polygon points="1460,302.2 1436.3,289 1484,292.5" fill="#f67b25" stroke="#f67b25" stroke-width="0.9" stroke-linejoin="round"/>
<polygon points="1510.6,294.5 1557.6,309.3 1530.7,321.2" fill="#1762b3" stroke="#1762b3" stroke-width="0.9" stroke-linejoin="round"/>
<polygon points="1510.6,294.5 1530.7,321.2 1483.3,315.3" fill="#155aa4" stroke="#155aa4" stroke-width="0.9" stroke-linejoin="round"/>
<polygon points="1557.6,309.3 1605.2,311.3 1530.7,321.2" fill="#14569d" stroke="#14569d" stroke-width="0.9" stroke-linejoin="round"/>
<polygon points="1605.2,311.3 1578.7,331.4 1530.7,321.2" fill="#165eab" stroke="#165eab" stroke-width="0.9" stroke-linejoin="round"/>
<text transform="translate(1296.8,151.9)" font-size="35" text-anchor="middle" fill="#2b2b2b">100</text>
<text transform="translate(1302.6,246.7)" font-size="35" text-anchor="middle" fill="#2b2b2b">50</text>
<text transform="translate(1304.5,336.9)" font-size="35" text-anchor="middle" fill="#2b2b2b">0</text>
<text transform="translate(1315,366.7)" font-size="35" text-anchor="middle" fill="#2b2b2b">0</text>
<text transform="translate(1407,385.5)" font-size="35" text-anchor="middle" fill="#2b2b2b">25</text>
<text transform="translate(1500.5,405.8)" font-size="35" text-anchor="middle" fill="#2b2b2b">50</text>
<text transform="translate(1621.2,401.3)" font-size="35" text-anchor="middle" fill="#2b2b2b">50</text>
<text transform="translate(1673,366.3)" font-size="35" text-anchor="middle" fill="#2b2b2b">25</text>
<text transform="translate(1725,333.8)" font-size="35" text-anchor="middle" fill="#2b2b2b">0</text>
<g transform="translate(1241.5,231) rotate(-90)" fill="#2b2b2b"><text x="-63" y="0" font-size="41" font-style="italic">S</text><text x="-36" y="8" font-size="20" font-style="italic">z</text><text x="-14" y="0" font-size="41">[&#181;m]</text></g>
<text transform="translate(1229,454) scale(0.97,1)" font-size="44" text-anchor="middle" fill="#2b2b2b">(b)</text>
<g transform="translate(1394,433) rotate(12.3)" fill="#2b2b2b">
<text x="-64.6" y="12.6" font-size="42" font-style="italic">&#951;</text>
<text x="-41.2" y="21.8" font-size="21" font-style="italic">p-p</text>
<text x="3.9" y="12.6" font-size="42" font-style="italic">[%]</text>
</g>
<g transform="translate(1712,404) rotate(-34.8)" fill="#2b2b2b">
<text x="-58.8" y="12.6" font-size="42" font-style="italic">&#951;</text>
<text x="-35.5" y="21.8" font-size="21">|-|</text>
<text x="-1.9" y="12.6" font-size="42">[%]</text>
</g>
<polygon points="1552.8,760 1552.8,817.5 1495,817.5" fill="#d59500" stroke="#d59500" stroke-width="0.6" stroke-linejoin="round"/>
<polygon points="1495,760 1552.8,760 1495,817.5" fill="#d79600" stroke="#d79600" stroke-width="0.6" stroke-linejoin="round"/>
<polygon points="1610.5,760 1610.5,817.5 1552.8,817.5" fill="#ca8d00" stroke="#ca8d00" stroke-width="0.6" stroke-linejoin="round"/>
<polygon points="1495,702.5 1552.8,760 1495,760" fill="#d09100" stroke="#d09100" stroke-width="0.6" stroke-linejoin="round"/>
<polygon points="1552.8,760 1610.5,760 1552.8,817.5" fill="#cf9100" stroke="#cf9100" stroke-width="0.6" stroke-linejoin="round"/>
<polygon points="1495,760 1495,817.5 1437.2,817.5" fill="#e5a000" stroke="#e5a000" stroke-width="0.6" stroke-linejoin="round"/>
<polygon points="1495,702.5 1552.8,702.5 1552.8,760" fill="#dd9a00" stroke="#dd9a00" stroke-width="0.6" stroke-linejoin="round"/>
<polygon points="1552.8,702.5 1610.5,702.5 1552.8,760" fill="#cb8e00" stroke="#cb8e00" stroke-width="0.6" stroke-linejoin="round"/>
<polygon points="1437.2,760 1495,760 1437.2,817.5" fill="#e5a000" stroke="#e5a000" stroke-width="0.6" stroke-linejoin="round"/>
<polygon points="1610.5,702.5 1610.5,760 1552.8,760" fill="#c58a00" stroke="#c58a00" stroke-width="0.6" stroke-linejoin="round"/>
<polygon points="1552.8,645 1552.8,702.5 1495,702.5" fill="#a97600" stroke="#a97600" stroke-width="0.6" stroke-linejoin="round"/>
<polygon points="1437.2,702.5 1495,702.5 1495,760" fill="#eda500" stroke="#eda500" stroke-width="0.6" stroke-linejoin="round"/>
<polygon points="1552.8,645 1610.5,702.5 1552.8,702.5" fill="#986a00" stroke="#986a00" stroke-width="0.6" stroke-linejoin="round"/>
<polygon points="1495,645 1552.8,645 1495,702.5" fill="#b88100" stroke="#b88100" stroke-width="0.6" stroke-linejoin="round"/>
<polygon points="1437.2,702.5 1495,760 1437.2,760" fill="#b47e00" stroke="#b47e00" stroke-width="0.6" stroke-linejoin="round"/>
<polygon points="1552.8,645 1610.5,645 1610.5,702.5" fill="#a67400" stroke="#a67400" stroke-width="0.6" stroke-linejoin="round"/>
<polygon points="1437.2,760 1437.2,817.5 1413.3,817.5 1414,783.2" fill="#faaf00" stroke="#faaf00" stroke-width="0.6" stroke-linejoin="round"/>
<polygon points="1413.3,817.5 1379.5,817.5 1414,783.2" fill="#1b8dc3" stroke="#1b8dc3" stroke-width="0.6" stroke-linejoin="round"/>
<polygon points="1437.2,702.5 1437.2,760 1410.1,760 1427.6,712.1" fill="#ffb200" stroke="#ffb200" stroke-width="0.6" stroke-linejoin="round"/>
<polygon points="1410.1,760 1379.5,760 1427.6,712.1" fill="#1c90c7" stroke="#1c90c7" stroke-width="0.6" stroke-linejoin="round"/>
<polygon points="1479,645 1495,645 1495,702.5 1475.7,683.3" fill="#eba400" stroke="#eba400" stroke-width="0.6" stroke-linejoin="round"/>
<polygon points="1450.1,645 1479,645 1475.7,683.3 1449.1,656.8" fill="#1a84b7" stroke="#1a84b7" stroke-width="0.6" stroke-linejoin="round"/>
<polygon points="1437.2,645 1450.1,645 1449.1,656.8" fill="#359533" stroke="#359533" stroke-width="0.6" stroke-linejoin="round"/>
<polygon points="1552.8,634.8 1552.8,645 1495,645 1511.7,628.4" fill="#543b00" stroke="#543b00" stroke-width="0.6" stroke-linejoin="round"/>
<polygon points="1552.8,600.2 1552.8,634.8 1511.7,628.4 1541.7,598.5" fill="#092f42" stroke="#092f42" stroke-width="0.6" stroke-linejoin="round"/>
<polygon points="1552.8,587.5 1552.8,600.2 1541.7,598.5" fill="#133512" stroke="#133512" stroke-width="0.6" stroke-linejoin="round"/>
<polygon points="1337.9,817.5 1321.8,817.5 1321.8,763.2" fill="#624400" stroke="#624400" stroke-width="0.6" stroke-linejoin="round"/>
<polygon points="1321.8,760 1379.5,817.5 1337.9,817.5 1321.8,763.2" fill="#0b374c" stroke="#0b374c" stroke-width="0.6" stroke-linejoin="round"/>
<polygon points="1475.7,683.3 1495,702.5 1437.2,702.5 1437.2,697.6" fill="#855d00" stroke="#855d00" stroke-width="0.6" stroke-linejoin="round"/>
<polygon points="1449.1,656.8 1475.7,683.3 1437.2,697.6 1437.2,661.2" fill="#0f4b67" stroke="#0f4b67" stroke-width="0.6" stroke-linejoin="round"/>
<polygon points="1437.2,645 1449.1,656.8 1437.2,661.2" fill="#1e541d" stroke="#1e541d" stroke-width="0.6" stroke-linejoin="round"/>
<polygon points="1410.1,760 1437.2,760 1414,783.2" fill="#ffbd00" stroke="#ffbd00" stroke-width="0.6" stroke-linejoin="round"/>
<polygon points="1379.5,760 1410.1,760 1414,783.2 1379.5,817.5" fill="#1e98d3" stroke="#1e98d3" stroke-width="0.6" stroke-linejoin="round"/>
<polygon points="1426.2,702.5 1437.2,702.5 1427.6,712.1" fill="#ffbd00" stroke="#ffbd00" stroke-width="0.6" stroke-linejoin="round"/>
<polygon points="1379.5,702.5 1426.2,702.5 1427.6,712.1 1379.5,760" fill="#1e98d3" stroke="#1e98d3" stroke-width="0.6" stroke-linejoin="round"/>
<polygon points="1321.8,702.5 1379.5,760 1321.8,760" fill="#0e4763" stroke="#0e4763" stroke-width="0.6" stroke-linejoin="round"/>
<polygon points="1610.5,640.5 1610.5,645 1552.8,645 1561.6,636.2" fill="#543b00" stroke="#543b00" stroke-width="0.6" stroke-linejoin="round"/>
<polygon points="1610.5,607.8 1610.5,640.5 1561.6,636.2 1591.8,606.1" fill="#092f42" stroke="#092f42" stroke-width="0.6" stroke-linejoin="round"/>
<polygon points="1610.5,587.5 1610.5,607.8 1591.8,606.1" fill="#133512" stroke="#133512" stroke-width="0.6" stroke-linejoin="round"/>
<polygon points="1511.7,628.4 1495,645 1495,617.5" fill="#543b00" stroke="#543b00" stroke-width="0.6" stroke-linejoin="round"/>
<polygon points="1495,587.5 1524.9,587.5 1541.7,598.5 1511.7,628.4 1495,617.5" fill="#092f42" stroke="#092f42" stroke-width="0.6" stroke-linejoin="round"/>
<polygon points="1524.9,587.5 1552.8,587.5 1541.7,598.5" fill="#133512" stroke="#133512" stroke-width="0.6" stroke-linejoin="round"/>
<polygon points="1437.2,530 1495,530 1495,587.5" fill="#63c5ff" stroke="#63c5ff" stroke-width="0.6" stroke-linejoin="round"/>
<polygon points="1495,617.5 1495,645 1479,645" fill="#c78b00" stroke="#c78b00" stroke-width="0.6" stroke-linejoin="round"/>
<polygon points="1495,587.5 1495,617.5 1479,645 1450.1,645 1467.9,614.5" fill="#16709b" stroke="#16709b" stroke-width="0.6" stroke-linejoin="round"/>
<polygon points="1450.1,645 1437.2,645 1467.9,614.5" fill="#2d7e2b" stroke="#2d7e2b" stroke-width="0.6" stroke-linejoin="round"/>
<polygon points="1321.8,760 1379.5,760 1379.5,817.5" fill="#156d97" stroke="#156d97" stroke-width="0.6" stroke-linejoin="round"/>
<polygon points="1495,530 1552.8,530 1552.8,567.7 1537.2,572.1" fill="#1a85b9" stroke="#1a85b9" stroke-width="0.6" stroke-linejoin="round"/>
<polygon points="1552.8,567.7 1552.8,587.5 1537.2,572.1" fill="#369733" stroke="#369733" stroke-width="0.6" stroke-linejoin="round"/>
<polygon points="1321.8,702.5 1379.5,702.5 1379.5,760" fill="#187dad" stroke="#187dad" stroke-width="0.6" stroke-linejoin="round"/>
<polygon points="1321.8,645 1379.5,702.5 1321.8,702.5" fill="#156b94" stroke="#156b94" stroke-width="0.6" stroke-linejoin="round"/>
<polygon points="1437.2,697.6 1437.2,702.5 1426.2,702.5" fill="#855d00" stroke="#855d00" stroke-width="0.6" stroke-linejoin="round"/>
<polygon points="1437.2,661.2 1437.2,697.6 1426.2,702.5 1379.5,702.5 1408.1,674" fill="#0f4b67" stroke="#0f4b67" stroke-width="0.6" stroke-linejoin="round"/>
<polygon points="1437.2,645 1437.2,661.2 1408.1,674" fill="#1e541d" stroke="#1e541d" stroke-width="0.6" stroke-linejoin="round"/>
<polygon points="1321.8,645 1379.5,645 1379.5,702.5" fill="#1777a5" stroke="#1777a5" stroke-width="0.6" stroke-linejoin="round"/>
<polygon points="1495,530 1537.2,572.1 1524.9,587.5 1495,587.5" fill="#156d97" stroke="#156d97" stroke-width="0.6" stroke-linejoin="round"/>
<polygon points="1537.2,572.1 1552.8,587.5 1524.9,587.5" fill="#2c7b2a" stroke="#2c7b2a" stroke-width="0.6" stroke-linejoin="round"/>
<polygon points="1437.2,530 1495,587.5 1437.2,587.5" fill="#146890" stroke="#146890" stroke-width="0.6" stroke-linejoin="round"/>
<polygon points="1321.8,530 1379.5,530 1379.5,565.8 1362.1,570.2" fill="#197eaf" stroke="#197eaf" stroke-width="0.6" stroke-linejoin="round"/>
<polygon points="1379.5,565.8 1379.5,587.5 1362.1,570.2" fill="#338f30" stroke="#338f30" stroke-width="0.6" stroke-linejoin="round"/>
<polygon points="1552.8,530 1610.5,530 1582.9,557.4 1552.8,567.7" fill="#197eaf" stroke="#197eaf" stroke-width="0.6" stroke-linejoin="round"/>
<polygon points="1582.9,557.4 1552.8,587.5 1552.8,567.7" fill="#338f30" stroke="#338f30" stroke-width="0.6" stroke-linejoin="round"/>
<polygon points="1321.8,530 1362.1,570.2 1332.4,587.5 1321.8,587.5" fill="#197eaf" stroke="#197eaf" stroke-width="0.6" stroke-linejoin="round"/>
<polygon points="1362.1,570.2 1379.5,587.5 1332.4,587.5" fill="#338f30" stroke="#338f30" stroke-width="0.6" stroke-linejoin="round"/>
<polygon points="1437.2,587.5 1495,587.5 1467.9,614.5 1437.2,616.1" fill="#1c90c7" stroke="#1c90c7" stroke-width="0.6" stroke-linejoin="round"/>
<polygon points="1467.9,614.5 1437.2,645 1437.2,616.1" fill="#3aa237" stroke="#3aa237" stroke-width="0.6" stroke-linejoin="round"/>
<polygon points="1379.5,614.4 1379.5,645 1321.8,645 1351,615.9" fill="#125f83" stroke="#125f83" stroke-width="0.6" stroke-linejoin="round"/>
<polygon points="1379.5,587.5 1379.5,614.4 1351,615.9" fill="#266b24" stroke="#266b24" stroke-width="0.6" stroke-linejoin="round"/>
<polygon points="1379.5,530 1437.2,530 1417.8,549.4 1379.5,565.8" fill="#1980b1" stroke="#1980b1" stroke-width="0.6" stroke-linejoin="round"/>
<polygon points="1417.8,549.4 1379.5,587.5 1379.5,565.8" fill="#349031" stroke="#349031" stroke-width="0.6" stroke-linejoin="round"/>
<polygon points="1379.5,645 1404.7,645 1408.1,674 1379.5,702.5" fill="#0f4f6d" stroke="#0f4f6d" stroke-width="0.6" stroke-linejoin="round"/>
<polygon points="1404.7,645 1437.2,645 1408.1,674" fill="#20591e" stroke="#20591e" stroke-width="0.6" stroke-linejoin="round"/>
<polygon points="1561.6,636.2 1552.8,645 1552.8,634.8" fill="#543b00" stroke="#543b00" stroke-width="0.6" stroke-linejoin="round"/>
<polygon points="1591.8,606.1 1561.6,636.2 1552.8,634.8 1552.8,600.2" fill="#092f42" stroke="#092f42" stroke-width="0.6" stroke-linejoin="round"/>
<polygon points="1552.8,587.5 1610.5,587.5 1591.8,606.1 1552.8,600.2" fill="#133512" stroke="#133512" stroke-width="0.6" stroke-linejoin="round"/>
<polygon points="1437.2,530 1437.2,587.5 1403,587.5 1417.8,549.4" fill="#187cab" stroke="#187cab" stroke-width="0.6" stroke-linejoin="round"/>
<polygon points="1403,587.5 1379.5,587.5 1417.8,549.4" fill="#328b2f" stroke="#328b2f" stroke-width="0.6" stroke-linejoin="round"/>
<polygon points="1321.8,587.5 1332.4,587.5 1351,615.9 1321.8,645" fill="#156a93" stroke="#156a93" stroke-width="0.6" stroke-linejoin="round"/>
<polygon points="1332.4,587.5 1379.5,587.5 1351,615.9" fill="#2b7829" stroke="#2b7829" stroke-width="0.6" stroke-linejoin="round"/>
<polygon points="1403,587.5 1437.2,587.5 1437.2,616.1" fill="#63c5ff" stroke="#63c5ff" stroke-width="0.6" stroke-linejoin="round"/>
<polygon points="1379.5,587.5 1403,587.5 1437.2,616.1 1437.2,645" fill="#7bdb6d" stroke="#7bdb6d" stroke-width="0.6" stroke-linejoin="round"/>
<polygon points="1404.7,645 1379.5,645 1379.5,614.4" fill="#0b374c" stroke="#0b374c" stroke-width="0.6" stroke-linejoin="round"/>
<polygon points="1379.5,587.5 1437.2,645 1404.7,645 1379.5,614.4" fill="#163e15" stroke="#163e15" stroke-width="0.6" stroke-linejoin="round"/>
<polygon points="1610.5,530 1610.5,550.2 1582.9,557.4" fill="#197eaf" stroke="#197eaf" stroke-width="0.6" stroke-linejoin="round"/>
<polygon points="1610.5,550.2 1610.5,587.5 1552.8,587.5 1582.9,557.4" fill="#338f30" stroke="#338f30" stroke-width="0.6" stroke-linejoin="round"/>
<line x1="1322.7" y1="527.8" x2="1608.6" y2="813.6" stroke="#ff2d37" stroke-width="4.2" stroke-dasharray="7.6 4.3"/>
<circle cx="1322.7" cy="527.8" r="11" fill="#ff2d37" stroke="#3a3030" stroke-width="1.1"/>
<circle cx="1379.9" cy="585" r="11" fill="#ff5540" stroke="#3a3030" stroke-width="1.1"/>
<circle cx="1437.1" cy="642.1" r="11" fill="#ff7a62" stroke="#3a3030" stroke-width="1.1"/>
<circle cx="1494.2" cy="699.3" r="11" fill="#ff9a85" stroke="#3a3030" stroke-width="1.1"/>
<circle cx="1551.4" cy="756.4" r="11" fill="#ffb5a3" stroke="#3a3030" stroke-width="1.1"/>
<circle cx="1608.6" cy="813.6" r="11" fill="#ffcfc0" stroke="#3a3030" stroke-width="1.1"/>
<text transform="translate(1643.5,545.3)" font-size="33.5" text-anchor="middle" fill="#2b2b2b">0</text>
<text transform="translate(1646.6,656.6)" font-size="33.5" text-anchor="middle" fill="#2b2b2b">25</text>
<text transform="translate(1646.6,771)" font-size="33.5" text-anchor="middle" fill="#2b2b2b">50</text>
<text transform="translate(1322.5,861)" font-size="33.5" text-anchor="middle" fill="#2b2b2b">0</text>
<text transform="translate(1440.5,861)" font-size="33.5" text-anchor="middle" fill="#2b2b2b">25</text>
<text transform="translate(1556,861)" font-size="33.5" text-anchor="middle" fill="#2b2b2b">50</text>
<text transform="translate(1286,674) rotate(-90) scale(0.985,1)" font-size="43" text-anchor="middle" fill="#2b2b2b">MRR [mm&#179;/min]</text>
<text transform="translate(1271,916) scale(0.97,1)" font-size="44" text-anchor="middle" fill="#2b2b2b">(c)</text>
<g transform="translate(1465,903) rotate(0)" fill="#2b2b2b">
<text x="-64.6" y="12.6" font-size="42" font-style="italic">&#951;</text>
<text x="-41.2" y="21.8" font-size="21">p-p</text>
<text x="3.9" y="12.6" font-size="42">[%]</text>
</g>
<g transform="translate(1707.5,675) rotate(-90)" fill="#2b2b2b">
<text x="-61.6" y="13.2" font-size="44" font-style="italic">&#951;</text>
<text x="-37.2" y="22.9" font-size="22">|-|</text>
<text x="-2" y="13.2" font-size="44">[%]</text>
</g>
<text transform="translate(1323.2,510.8) scale(0.95,1)" font-size="32" text-anchor="middle" fill="#ff2d37">I</text>
<text transform="translate(1380.4,567.9) scale(0.95,1)" font-size="32" text-anchor="middle" fill="#ff2d37">II</text>
<text transform="translate(1437.6,625.1) scale(0.95,1)" font-size="32" text-anchor="middle" fill="#ff2d37">III</text>
<text transform="translate(1494.7,682.2) scale(0.95,1)" font-size="32" text-anchor="middle" fill="#ff2d37">IV</text>
<text transform="translate(1551.9,739.4) scale(0.95,1)" font-size="32" text-anchor="middle" fill="#ff2d37">V</text>
<text transform="translate(1609.1,796.6) scale(0.95,1)" font-size="32" text-anchor="middle" fill="#ff2d37">VI</text>
<defs>
<filter id="tx0" x="0" y="0" width="100%" height="100%" color-interpolation-filters="sRGB"><feTurbulence type="fractalNoise" baseFrequency="0.035 0.05" numOctaves="3" seed="2"/><feColorMatrix type="matrix" values="1 0 0 0 0 1 0 0 0 0 1 0 0 0 0 0 0 0 0 1"/><feComponentTransfer result="base"><feFuncR type="table" tableValues="0.588 0.588 0.588 0.588 0.588 0.588 0.588 0.588 0.588 0.588 0.588 0.588 0.588 0.618 0.647 0.676 0.706 0.735 0.765 0.787 0.810 0.832 0.855 0.868 0.881 0.894 0.907 0.920 0.933 0.933 0.933 0.933 0.933 0.933 0.933 0.933 0.933 0.933 0.933 0.933 0.933"/><feFuncG type="table" tableValues="0.306 0.306 0.306 0.306 0.306 0.306 0.306 0.306 0.306 0.306 0.306 0.306 0.306 0.327 0.348 0.369 0.390 0.410 0.431 0.455 0.478 0.502 0.525 0.546 0.566 0.586 0.607 0.627 0.647 0.647 0.647 0.647 0.647 0.647 0.647 0.647 0.647 0.647 0.647 0.647 0.647"/><feFuncB type="table" tableValues="0.055 0.055 0.055 0.055 0.055 0.055 0.055 0.055 0.055 0.055 0.055 0.055 0.055 0.060 0.065 0.071 0.076 0.081 0.086 0.092 0.098 0.104 0.110 0.118 0.125 0.133 0.141 0.149 0.157 0.157 0.157 0.157 0.157 0.157 0.157 0.157 0.157 0.157 0.157 0.157 0.157"/></feComponentTransfer><feTurbulence type="fractalNoise" baseFrequency="0.1 0.14" numOctaves="2" seed="9"/><feColorMatrix type="matrix" values="0 0 0 0 0.196 0 0 0 0 0.071 0 0 0 0 0.008 1 0 0 0 0"/><feComponentTransfer result="darks"><feFuncA type="table" tableValues="0.000 0.000 0.000 0.000 0.000 0.000 0.000 0.000 0.000 0.000 0.000 0.000 0.000 0.000 0.000 0.000 0.000 0.000 0.000 0.000 0.000 0.000 0.056 0.196 0.335 0.475 0.615 0.754 0.894 0.950 0.950 0.950 0.950 0.950 0.950 0.950 0.950 0.950 0.950 0.950 0.950"/></feComponentTransfer><feTurbulence type="fractalNoise" baseFrequency="0.07 0.08" numOctaves="2" seed="7"/><feColorMatrix type="matrix" values="0 0 0 0 1.000 0 0 0 0 0.882 0 0 0 0 0.353 1 0 0 0 0"/><feComponentTransfer result="dots"><feFuncA type="table" tableValues="0.000 0.000 0.000 0.000 0.000 0.000 0.000 0.000 0.000 0.000 0.000 0.000 0.000 0.000 0.000 0.000 0.000 0.000 0.000 0.000 0.000 0.000 0.118 0.265 0.412 0.559 0.706 0.853 1.000 1.000 1.000 1.000 1.000 1.000 1.000 1.000 1.000 1.000 1.000 1.000 1.000"/></feComponentTransfer><feMerge><feMergeNode in="base"/><feMergeNode in="darks"/><feMergeNode in="dots"/></feMerge></filter>
<filter id="tx1" x="0" y="0" width="100%" height="100%" color-interpolation-filters="sRGB"><feTurbulence type="fractalNoise" baseFrequency="0.05 0.05" numOctaves="3" seed="5"/><feColorMatrix type="matrix" values="1 0 0 0 0 1 0 0 0 0 1 0 0 0 0 0 0 0 0 1"/><feComponentTransfer result="base"><feFuncR type="table" tableValues="0.627 0.627 0.627 0.627 0.627 0.627 0.627 0.627 0.627 0.627 0.627 0.627 0.627 0.644 0.661 0.678 0.695 0.712 0.729 0.747 0.765 0.782 0.800 0.812 0.824 0.835 0.847 0.859 0.871 0.871 0.871 0.871 0.871 0.871 0.871 0.871 0.871 0.871 0.871 0.871 0.871"/><feFuncG type="table" tableValues="0.314 0.314 0.314 0.314 0.314 0.314 0.314 0.314 0.314 0.314 0.314 0.314 0.314 0.327 0.340 0.353 0.366 0.379 0.392 0.408 0.424 0.439 0.455 0.468 0.481 0.494 0.507 0.520 0.533 0.533 0.533 0.533 0.533 0.533 0.533 0.533 0.533 0.533 0.533 0.533 0.533"/><feFuncB type="table" tableValues="0.047 0.047 0.047 0.047 0.047 0.047 0.047 0.047 0.047 0.047 0.047 0.047 0.047 0.050 0.052 0.055 0.058 0.060 0.063 0.067 0.071 0.075 0.078 0.084 0.089 0.094 0.099 0.105 0.110 0.110 0.110 0.110 0.110 0.110 0.110 0.110 0.110 0.110 0.110 0.110 0.110"/></feComponentTransfer><feTurbulence type="fractalNoise" baseFrequency="0.22 0.22" numOctaves="2" seed="13"/><feColorMatrix type="matrix" values="0 0 0 0 0.216 0 0 0 0 0.078 0 0 0 0 0.008 1 0 0 0 0"/><feComponentTransfer result="darks"><feFuncA type="table" tableValues="0.000 0.000 0.000 0.000 0.000 0.000 0.000 0.000 0.000 0.000 0.000 0.000 0.000 0.000 0.000 0.000 0.000 0.000 0.000 0.000 0.000 0.000 0.053 0.185 0.318 0.450 0.582 0.715 0.847 0.900 0.900 0.900 0.900 0.900 0.900 0.900 0.900 0.900 0.900 0.900 0.900"/></feComponentTransfer><feTurbulence type="fractalNoise" baseFrequency="0.19 0.19" numOctaves="2" seed="11"/><feColorMatrix type="matrix" values="0 0 0 0 1.000 0 0 0 0 0.855 0 0 0 0 0.314 1 0 0 0 0"/><feComponentTransfer result="dots"><feFuncA type="table" tableValues="0.000 0.000 0.000 0.000 0.000 0.000 0.000 0.000 0.000 0.000 0.000 0.000 0.000 0.000 0.000 0.000 0.000 0.000 0.000 0.000 0.000 0.000 0.059 0.206 0.353 0.500 0.647 0.794 0.941 1.000 1.000 1.000 1.000 1.000 1.000 1.000 1.000 1.000 1.000 1.000 1.000"/></feComponentTransfer><feMerge><feMergeNode in="base"/><feMergeNode in="darks"/><feMergeNode in="dots"/></feMerge></filter>
<filter id="tx2" x="0" y="0" width="100%" height="100%" color-interpolation-filters="sRGB"><feTurbulence type="fractalNoise" baseFrequency="0.05 0.05" numOctaves="3" seed="8"/><feColorMatrix type="matrix" values="1 0 0 0 0 1 0 0 0 0 1 0 0 0 0 0 0 0 0 1"/><feComponentTransfer result="base"><feFuncR type="table" tableValues="0.529 0.529 0.529 0.529 0.529 0.529 0.529 0.529 0.529 0.529 0.529 0.529 0.529 0.544 0.559 0.575 0.590 0.605 0.620 0.635 0.651 0.667 0.682 0.694 0.706 0.718 0.729 0.741 0.753 0.753 0.753 0.753 0.753 0.753 0.753 0.753 0.753 0.753 0.753 0.753 0.753"/><feFuncG type="table" tableValues="0.251 0.251 0.251 0.251 0.251 0.251 0.251 0.251 0.251 0.251 0.251 0.251 0.251 0.261 0.272 0.282 0.293 0.303 0.314 0.325 0.337 0.349 0.361 0.371 0.382 0.392 0.403 0.413 0.424 0.424 0.424 0.424 0.424 0.424 0.424 0.424 0.424 0.424 0.424 0.424 0.424"/><feFuncB type="table" tableValues="0.035 0.035 0.035 0.035 0.035 0.035 0.035 0.035 0.035 0.035 0.035 0.035 0.035 0.037 0.039 0.041 0.043 0.045 0.047 0.050 0.053 0.056 0.059 0.062 0.065 0.069 0.072 0.075 0.078 0.078 0.078 0.078 0.078 0.078 0.078 0.078 0.078 0.078 0.078 0.078 0.078"/></feComponentTransfer><feTurbulence type="fractalNoise" baseFrequency="0.25 0.25" numOctaves="2" seed="17"/><feColorMatrix type="matrix" values="0 0 0 0 0.188 0 0 0 0 0.059 0 0 0 0 0.008 1 0 0 0 0"/><feComponentTransfer result="darks"><feFuncA type="table" tableValues="0.000 0.000 0.000 0.000 0.000 0.000 0.000 0.000 0.000 0.000 0.000 0.000 0.000 0.000 0.000 0.000 0.000 0.000 0.000 0.000 0.000 0.000 0.106 0.238 0.371 0.503 0.635 0.768 0.900 0.900 0.900 0.900 0.900 0.900 0.900 0.900 0.900 0.900 0.900 0.900 0.900"/></feComponentTransfer><feTurbulence type="fractalNoise" baseFrequency="0.23 0.23" numOctaves="2" seed="15"/><feColorMatrix type="matrix" values="0 0 0 0 1.000 0 0 0 0 0.831 0 0 0 0 0.275 1 0 0 0 0"/><feComponentTransfer result="dots"><feFuncA type="table" tableValues="0.000 0.000 0.000 0.000 0.000 0.000 0.000 0.000 0.000 0.000 0.000 0.000 0.000 0.000 0.000 0.000 0.000 0.000 0.000 0.000 0.000 0.000 0.000 0.147 0.294 0.441 0.588 0.735 0.882 1.000 1.000 1.000 1.000 1.000 1.000 1.000 1.000 1.000 1.000 1.000 1.000"/></feComponentTransfer><feMerge><feMergeNode in="base"/><feMergeNode in="darks"/><feMergeNode in="dots"/></feMerge></filter>
<filter id="tx3" x="0" y="0" width="100%" height="100%" color-interpolation-filters="sRGB"><feTurbulence type="fractalNoise" baseFrequency="0.05 0.07" numOctaves="3" seed="11"/><feColorMatrix type="matrix" values="1 0 0 0 0 1 0 0 0 0 1 0 0 0 0 0 0 0 0 1"/><feComponentTransfer result="base"><feFuncR type="table" tableValues="0.569 0.569 0.569 0.569 0.569 0.569 0.569 0.569 0.569 0.569 0.569 0.569 0.569 0.584 0.599 0.614 0.629 0.644 0.659 0.675 0.690 0.706 0.722 0.732 0.742 0.753 0.763 0.774 0.784 0.784 0.784 0.784 0.784 0.784 0.784 0.784 0.784 0.784 0.784 0.784 0.784"/><feFuncG type="table" tableValues="0.216 0.216 0.216 0.216 0.216 0.216 0.216 0.216 0.216 0.216 0.216 0.216 0.216 0.225 0.235 0.245 0.255 0.265 0.275 0.286 0.298 0.310 0.322 0.331 0.340 0.349 0.358 0.367 0.376 0.376 0.376 0.376 0.376 0.376 0.376 0.376 0.376 0.376 0.376 0.376 0.376"/><feFuncB type="table" tableValues="0.031 0.031 0.031 0.031 0.031 0.031 0.031 0.031 0.031 0.031 0.031 0.031 0.031 0.033 0.034 0.035 0.037 0.038 0.039 0.041 0.043 0.045 0.047 0.050 0.052 0.055 0.058 0.060 0.063 0.063 0.063 0.063 0.063 0.063 0.063 0.063 0.063 0.063 0.063 0.063 0.063"/></feComponentTransfer><feTurbulence type="fractalNoise" baseFrequency="0.3 0.45" numOctaves="2" seed="21"/><feColorMatrix type="matrix" values="0 0 0 0 0.176 0 0 0 0 0.047 0 0 0 0 0.008 1 0 0 0 0"/><feComponentTransfer result="darks"><feFuncA type="table" tableValues="0.000 0.000 0.000 0.000 0.000 0.000 0.000 0.000 0.000 0.000 0.000 0.000 0.000 0.000 0.000 0.000 0.000 0.000 0.000 0.000 0.000 0.079 0.212 0.344 0.476 0.609 0.741 0.874 0.900 0.900 0.900 0.900 0.900 0.900 0.900 0.900 0.900 0.900 0.900 0.900 0.900"/></feComponentTransfer><feTurbulence type="fractalNoise" baseFrequency="0.3 0.42" numOctaves="2" seed="19"/><feColorMatrix type="matrix" values="0 0 0 0 0.988 0 0 0 0 0.706 0 0 0 0 0.176 1 0 0 0 0"/><feComponentTransfer result="dots"><feFuncA type="table" tableValues="0.000 0.000 0.000 0.000 0.000 0.000 0.000 0.000 0.000 0.000 0.000 0.000 0.000 0.000 0.000 0.000 0.000 0.000 0.000 0.000 0.000 0.000 0.056 0.196 0.335 0.475 0.615 0.754 0.894 0.950 0.950 0.950 0.950 0.950 0.950 0.950 0.950 0.950 0.950 0.950 0.950"/></feComponentTransfer><feMerge><feMergeNode in="base"/><feMergeNode in="darks"/><feMergeNode in="dots"/></feMerge></filter>
<filter id="tx4" x="0" y="0" width="100%" height="100%" color-interpolation-filters="sRGB"><feTurbulence type="fractalNoise" baseFrequency="0.02 0.09" numOctaves="3" seed="14"/><feColorMatrix type="matrix" values="1 0 0 0 0 1 0 0 0 0 1 0 0 0 0 0 0 0 0 1"/><feComponentTransfer result="base"><feFuncR type="table" tableValues="0.314 0.314 0.314 0.314 0.314 0.314 0.314 0.314 0.314 0.314 0.314 0.314 0.314 0.329 0.345 0.361 0.376 0.392 0.408 0.425 0.443 0.461 0.478 0.492 0.505 0.518 0.531 0.544 0.557 0.557 0.557 0.557 0.557 0.557 0.557 0.557 0.557 0.557 0.557 0.557 0.557"/><feFuncG type="table" tableValues="0.098 0.098 0.098 0.098 0.098 0.098 0.098 0.098 0.098 0.098 0.098 0.098 0.098 0.105 0.112 0.120 0.127 0.134 0.141 0.151 0.161 0.171 0.180 0.188 0.196 0.204 0.212 0.220 0.227 0.227 0.227 0.227 0.227 0.227 0.227 0.227 0.227 0.227 0.227 0.227 0.227"/><feFuncB type="table" tableValues="0.020 0.020 0.020 0.020 0.020 0.020 0.020 0.020 0.020 0.020 0.020 0.020 0.020 0.020 0.021 0.022 0.022 0.023 0.024 0.025 0.027 0.029 0.031 0.033 0.035 0.037 0.039 0.041 0.043 0.043 0.043 0.043 0.043 0.043 0.043 0.043 0.043 0.043 0.043 0.043 0.043"/></feComponentTransfer><feTurbulence type="fractalNoise" baseFrequency="0.3 0.45" numOctaves="2" seed="25"/><feColorMatrix type="matrix" values="0 0 0 0 0.157 0 0 0 0 0.039 0 0 0 0 0.008 1 0 0 0 0"/><feComponentTransfer result="darks"><feFuncA type="table" tableValues="0.000 0.000 0.000 0.000 0.000 0.000 0.000 0.000 0.000 0.000 0.000 0.000 0.000 0.000 0.000 0.000 0.000 0.000 0.000 0.000 0.000 0.024 0.141 0.259 0.376 0.494 0.612 0.729 0.800 0.800 0.800 0.800 0.800 0.800 0.800 0.800 0.800 0.800 0.800 0.800 0.800"/></feComponentTransfer><feTurbulence type="fractalNoise" baseFrequency="0.3 0.45" numOctaves="2" seed="23"/><feColorMatrix type="matrix" values="0 0 0 0 0.961 0 0 0 0 0.588 0 0 0 0 0.125 1 0 0 0 0"/><feComponentTransfer result="dots"><feFuncA type="table" tableValues="0.000 0.000 0.000 0.000 0.000 0.000 0.000 0.000 0.000 0.000 0.000 0.000 0.000 0.000 0.000 0.000 0.000 0.000 0.000 0.000 0.000 0.056 0.196 0.335 0.475 0.615 0.754 0.894 0.950 0.950 0.950 0.950 0.950 0.950 0.950 0.950 0.950 0.950 0.950 0.950 0.950"/></feComponentTransfer><feMerge><feMergeNode in="base"/><feMergeNode in="darks"/><feMergeNode in="dots"/></feMerge></filter>
<filter id="tx5" x="0" y="0" width="100%" height="100%" color-interpolation-filters="sRGB"><feTurbulence type="fractalNoise" baseFrequency="0.012 0.012" numOctaves="1" seed="17"/><feColorMatrix type="matrix" values="1 0 0 0 0 1 0 0 0 0 1 0 0 0 0 0 0 0 0 1"/><feComponentTransfer result="base"><feFuncR type="table" tableValues="0.176 0.176 0.176 0.176 0.176 0.176 0.176 0.176 0.176 0.176 0.176 0.176 0.176 0.182 0.188 0.194 0.200 0.206 0.212 0.218 0.224 0.229 0.235 0.242 0.248 0.255 0.261 0.268 0.275 0.275 0.275 0.275 0.275 0.275 0.275 0.275 0.275 0.275 0.275 0.275 0.275"/><feFuncG type="table" tableValues="0.031 0.031 0.031 0.031 0.031 0.031 0.031 0.031 0.031 0.031 0.031 0.031 0.031 0.033 0.035 0.037 0.039 0.041 0.043 0.045 0.047 0.049 0.051 0.054 0.056 0.059 0.061 0.064 0.067 0.067 0.067 0.067 0.067 0.067 0.067 0.067 0.067 0.067 0.067 0.067 0.067"/><feFuncB type="table" tableValues="0.031 0.031 0.031 0.031 0.031 0.031 0.031 0.031 0.031 0.031 0.031 0.031 0.031 0.033 0.034 0.035 0.037 0.038 0.039 0.040 0.041 0.042 0.043 0.045 0.047 0.049 0.051 0.053 0.055 0.055 0.055 0.055 0.055 0.055 0.055 0.055 0.055 0.055 0.055 0.055 0.055"/></feComponentTransfer><feTurbulence type="fractalNoise" baseFrequency="0.3 0.36" numOctaves="2" seed="29"/><feColorMatrix type="matrix" values="0 0 0 0 0.078 0 0 0 0 0.008 0 0 0 0 0.008 1 0 0 0 0"/><feComponentTransfer result="darks"><feFuncA type="table" tableValues="0.000 0.000 0.000 0.000 0.000 0.000 0.000 0.000 0.000 0.000 0.000 0.000 0.000 0.000 0.000 0.000 0.000 0.000 0.000 0.000 0.000 0.029 0.175 0.321 0.467 0.612 0.700 0.700 0.700 0.700 0.700 0.700 0.700 0.700 0.700 0.700 0.700 0.700 0.700 0.700 0.700"/></feComponentTransfer><feTurbulence type="fractalNoise" baseFrequency="0.32 0.38" numOctaves="2" seed="27"/><feColorMatrix type="matrix" values="0 0 0 0 0.725 0 0 0 0 0.235 0 0 0 0 0.118 1 0 0 0 0"/><feComponentTransfer result="dots"><feFuncA type="table" tableValues="0.000 0.000 0.000 0.000 0.000 0.000 0.000 0.000 0.000 0.000 0.000 0.000 0.000 0.000 0.000 0.000 0.000 0.000 0.000 0.000 0.000 0.000 0.000 0.000 0.121 0.273 0.425 0.577 0.729 0.850 0.850 0.850 0.850 0.850 0.850 0.850 0.850 0.850 0.850 0.850 0.850"/></feComponentTransfer><feMerge><feMergeNode in="base"/><feMergeNode in="darks"/><feMergeNode in="dots"/></feMerge></filter>
</defs>
<rect x="13" y="952.6" width="275.3" height="275.2" fill="#ff2d37"/>
<rect x="21.8" y="961.4" width="257.7" height="257.6" fill="#a05a10" filter="url(#tx0)"/>
<line x1="24" y1="977.5" x2="278" y2="977.5" stroke="#2e0f02" stroke-width="4.4" stroke-dasharray="0.1 7.2" stroke-linecap="round" opacity="0.5"/>
<line x1="24" y1="1046" x2="278" y2="1046" stroke="#2e0f02" stroke-width="4.4" stroke-dasharray="0.1 7.2" stroke-linecap="round" opacity="0.75"/>
<line x1="24" y1="1075" x2="278" y2="1075" stroke="#2e0f02" stroke-width="4.4" stroke-dasharray="0.1 7.2" stroke-linecap="round" opacity="0.8"/>
<line x1="24" y1="1106" x2="278" y2="1106" stroke="#2e0f02" stroke-width="4.4" stroke-dasharray="0.1 7.2" stroke-linecap="round" opacity="0.8"/>
<line x1="24" y1="1137.5" x2="278" y2="1137.5" stroke="#2e0f02" stroke-width="4.4" stroke-dasharray="0.1 7.2" stroke-linecap="round" opacity="0.5"/>
<line x1="24" y1="1167.5" x2="278" y2="1167.5" stroke="#2e0f02" stroke-width="4.4" stroke-dasharray="0.1 7.2" stroke-linecap="round" opacity="0.75"/>
<line x1="24" y1="1190" x2="278" y2="1190" stroke="#2e0f02" stroke-width="4.4" stroke-dasharray="0.1 7.2" stroke-linecap="round" opacity="0.7"/>
<line x1="24" y1="1202.5" x2="278" y2="1202.5" stroke="#2e0f02" stroke-width="4.4" stroke-dasharray="0.1 7.2" stroke-linecap="round" opacity="0.7"/>
<rect x="220.8" y="969.2" width="50" height="49.5" fill="#fff"/>
<text transform="translate(245.8,1009) scale(0.9,1)" font-size="42" text-anchor="middle" fill="#ff2d37">I</text>
<rect x="309.1" y="952.6" width="275.3" height="275.2" fill="#ff5540"/>
<rect x="317.9" y="961.4" width="257.7" height="257.6" fill="#a05a10" filter="url(#tx1)"/>
<rect x="516.8" y="969.2" width="50" height="49.5" fill="#fff"/>
<text transform="translate(541.8,1009) scale(0.9,1)" font-size="42" text-anchor="middle" fill="#ff2d37">II</text>
<rect x="605.1" y="952.6" width="275.3" height="275.2" fill="#ff7a62"/>
<rect x="613.9" y="961.4" width="257.7" height="257.6" fill="#a05a10" filter="url(#tx2)"/>
<rect x="812.9" y="969.2" width="50" height="49.5" fill="#fff"/>
<text transform="translate(837.9,1009) scale(0.9,1)" font-size="42" text-anchor="middle" fill="#ff2d37">III</text>
<rect x="901.2" y="952.6" width="275.3" height="275.2" fill="#ff9a85"/>
<rect x="910" y="961.4" width="257.7" height="257.6" fill="#a05a10" filter="url(#tx3)"/>
<rect x="1108.9" y="969.2" width="50" height="49.5" fill="#fff"/>
<text transform="translate(1133.9,1009) scale(0.9,1)" font-size="42" text-anchor="middle" fill="#ff2d37">IV</text>
<rect x="1197.2" y="952.6" width="275.3" height="275.2" fill="#ffb5a3"/>
<rect x="1206" y="961.4" width="257.7" height="257.6" fill="#a05a10" filter="url(#tx4)"/>
<rect x="1405" y="969.2" width="50" height="49.5" fill="#fff"/>
<text transform="translate(1430,1009) scale(0.9,1)" font-size="42" text-anchor="middle" fill="#ff2d37">V</text>
<rect x="1493.2" y="952.6" width="275.3" height="275.2" fill="#ffcfc0"/>
<rect x="1502" y="961.4" width="257.7" height="257.6" fill="#a05a10" filter="url(#tx5)"/>
<rect x="1701" y="969.2" width="50" height="49.5" fill="#fff"/>
<text transform="translate(1726,1009) scale(0.9,1)" font-size="42" text-anchor="middle" fill="#ff2d37">VI</text>
<rect x="29.5" y="969.25" width="130" height="64.5" fill="#fff"/>
<text transform="translate(93.8,1002.7)" font-size="29" text-anchor="middle" fill="#404040">1 mm</text>
<path d="M40.75 1013.25H148.75M40.75 1002V1024.5M148.75 1002V1024.5" stroke="#404040" stroke-width="2.6" fill="none"/>
<rect x="0" y="1164.5" width="76.75" height="76" fill="#fff"/>
<text transform="translate(40.5,1215) scale(0.97,1)" font-size="44" text-anchor="middle" fill="#2b2b2b">(d)</text>
</svg>
</body></html>
